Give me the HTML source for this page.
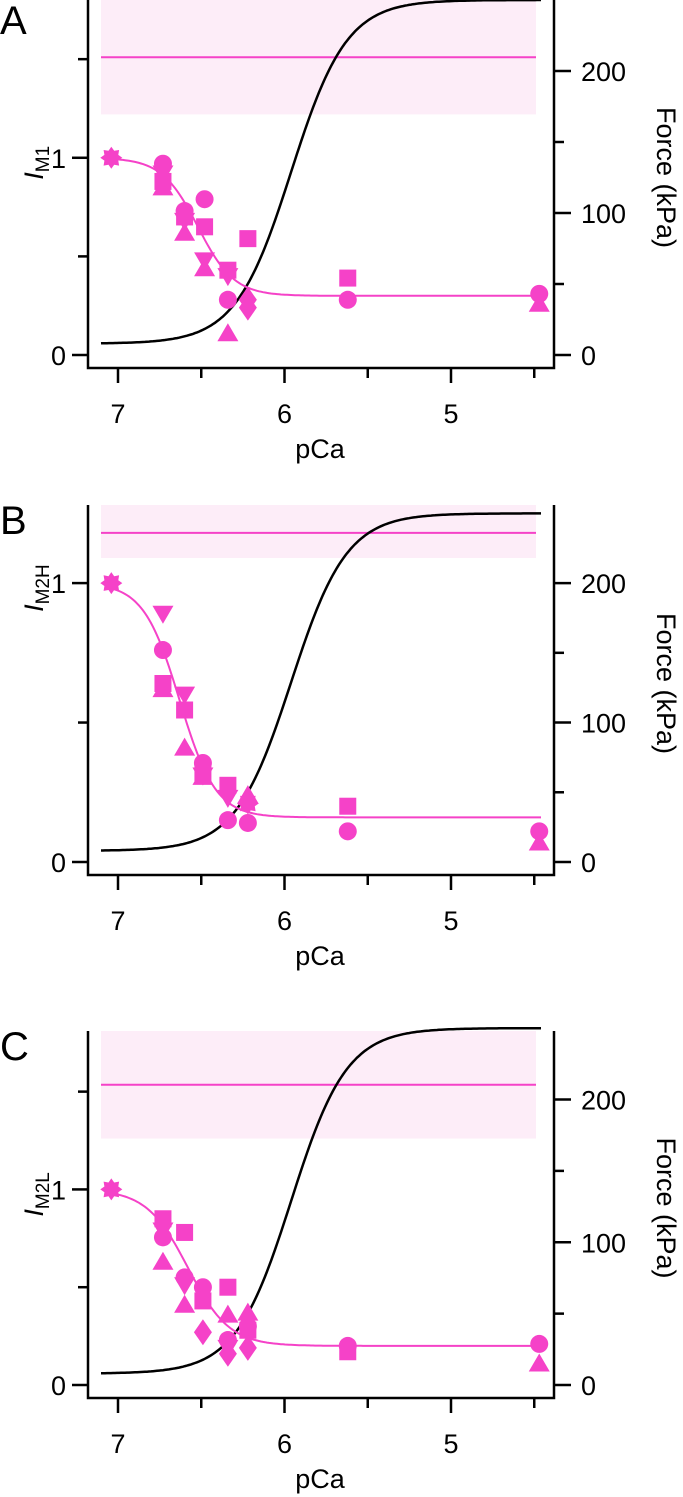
<!DOCTYPE html>
<html><head><meta charset="utf-8">
<style>
html,body{margin:0;padding:0;background:#fff;}
svg{display:block;font-family:"Liberation Sans",Arial,sans-serif;}
</style></head>
<body>
<svg id="chart" width="683" height="1497" viewBox="0 0 683 1497" xmlns="http://www.w3.org/2000/svg"></svg>
<script>
// ---- data ----
const panelLetters = ["A","B","C"];
const panelSubs = ["M1","M2H","M2L"];
const xTicks = [7,6,5];
const xMinorTicks = [6.5,5.5,4.5];
const leftTicks = [0,1];
const leftMinor = [0.5,1.5];
const rightTicks = [0,100,200];
const rightMinor = [50,150];
// fit params per panel
const fitMin = [0.30,0.16,0.20];
const fitMid = [6.52,6.63,6.58];
const fitN = [4,4,3.5];
const refLevel = [1.51,1.18,1.535];
const refLow = [1.22,1.09,1.26];
const refHigh = [1.80,1.28,1.81];
const forceMin = [8,8,8];
const forceMax = [250,250,250];
const forceMid = [5.96,5.96,5.96];
const forceN = [2.6,2.6,2.6];
// data points: [pCa, value, shape]
const pointsA = [
[7.04,1,"star"],
[6.73,0.97,"circle"],[6.73,0.92,"tridown"],[6.73,0.88,"square"],[6.73,0.85,"triup"],
[6.6,0.73,"circle"],[6.6,0.70,"square"],[6.6,0.68,"tridown"],[6.6,0.62,"triup"],
[6.48,0.79,"circle"],[6.48,0.65,"square"],[6.48,0.48,"tridown"],[6.48,0.44,"triup"],
[6.34,0.43,"square"],[6.34,0.40,"tridown"],[6.34,0.28,"circle"],[6.34,0.11,"triup"],
[6.22,0.59,"square"],[6.22,0.28,"diamond"],[6.22,0.24,"diamond"],
[5.62,0.39,"square"],[5.62,0.28,"circle"],
[4.47,0.31,"circle"],[4.47,0.26,"triup"]];
const pointsB = [
[7.04,1,"star"],
[6.73,0.89,"tridown"],[6.73,0.76,"circle"],[6.73,0.64,"square"],[6.73,0.62,"triup"],
[6.6,0.60,"tridown"],[6.6,0.545,"square"],[6.6,0.41,"triup"],
[6.49,0.355,"circle"],[6.49,0.32,"square"],[6.49,0.305,"triup"],[6.49,0.31,"tridown"],
[6.34,0.275,"square"],[6.34,0.23,"tridown"],[6.34,0.15,"circle"],
[6.22,0.24,"triup"],[6.22,0.21,"star"],[6.22,0.14,"circle"],
[5.62,0.20,"square"],[5.62,0.11,"circle"],
[4.47,0.11,"circle"],[4.47,0.07,"triup"]];
const pointsC = [
[7.04,1,"star"],
[6.73,0.85,"square"],[6.73,0.79,"tridown"],[6.73,0.755,"circle"],[6.73,0.63,"triup"],
[6.6,0.78,"square"],[6.6,0.55,"circle"],[6.6,0.51,"tridown"],[6.6,0.41,"triup"],
[6.49,0.50,"circle"],[6.49,0.43,"square"],[6.49,0.27,"diamond"],
[6.34,0.50,"square"],[6.34,0.36,"triup"],[6.34,0.23,"circle"],[6.34,0.19,"tridown"],[6.34,0.16,"diamond"],
[6.22,0.37,"triup"],[6.22,0.28,"square"],[6.22,0.30,"circle"],[6.22,0.19,"diamond"],
[5.62,0.20,"circle"],[5.62,0.17,"square"],
[4.47,0.21,"circle"],[4.47,0.11,"triup"]];
const allPoints = [pointsA,pointsB,pointsC];

// ---- layout ----
const NS="http://www.w3.org/2000/svg";
const svg=document.getElementById('chart');
const PINK="#f542c8";
const layout=[{y0:355,top:0,lmax:1.80,rmax:250},{y0:862,top:505,lmax:1.28,rmax:256},{y0:1385,top:1031,lmax:1.81,rmax:248}];
const xL=88,xR=554;
function xs(p){return 118+(7-p)*166.5;}
function mk(tag,attrs,parent){const e=document.createElementNS(NS,tag);for(const k in attrs)e.setAttribute(k,attrs[k]);(parent||svg).appendChild(e);return e;}
function txt(s,attrs,parent){const e=mk('text',attrs,parent);e.textContent=s;return e;}

layout.forEach((L,i)=>{
  const g=mk('g',{});
  
  
  const yl=v=>L.y0-(L.y0-L.top)*v/L.lmax;
  const yr=v=>L.y0-(L.y0-L.top)*v/L.rmax;
  const yb=L.y0+13;
  const band=mk('rect',{x:101,y:yl(refHigh[i]),width:435,height:yl(refLow[i])-yl(refHigh[i]),fill:"#fdedf8"},g);
  
  
  const rl=mk('line',{x1:101,x2:536,y1:yl(refLevel[i]),y2:yl(refLevel[i]),stroke:PINK,'stroke-width':2},g);
  
  
  let d='';
  for(let x=101;x<=541;x+=2){const p=7-(x-118)/166.5;const f=forceMin[i]+(forceMax[i]-forceMin[i])/(1+Math.pow(10,forceN[i]*(p-forceMid[i])));d+=(d?'L':'M')+x+','+yr(f).toFixed(1);}
  const fc=mk('path',{d:d,fill:'none',stroke:'#000','stroke-width':2.5},g);
  
  
  d='';
  for(let x=111;x<=541;x+=2){const p=7-(x-118)/166.5;const v=fitMin[i]+(1-fitMin[i])/(1+Math.pow(10,fitN[i]*(fitMid[i]-p)));d+=(d?'L':'M')+x+','+yl(v).toFixed(1);}
  const pc=mk('path',{d:d,fill:'none',stroke:PINK,'stroke-width':2},g);
  
  
  allPoints[i].forEach(pt=>{
    const cx=xs(pt[0]),cy=yl(pt[1]);let e;
    if(pt[2]==='circle')e=mk('circle',{cx:cx,cy:cy,r:9,fill:PINK},g);
    else if(pt[2]==='square')e=mk('rect',{x:cx-8.5,y:cy-8.5,width:17,height:17,fill:PINK},g);
    else if(pt[2]==='triup')e=mk('polygon',{points:`${cx},${cy-10} ${cx+10.5},${cy+8} ${cx-10.5},${cy+8}`,fill:PINK},g);
    else if(pt[2]==='tridown')e=mk('polygon',{points:`${cx},${cy+10} ${cx+10.5},${cy-8} ${cx-10.5},${cy-8}`,fill:PINK},g);
    else if(pt[2]==='diamond')e=mk('polygon',{points:`${cx},${cy-13} ${cx+9},${cy} ${cx},${cy+13} ${cx-9},${cy}`,fill:PINK},g);
    else {let s='';for(let k=0;k<16;k++){const r=k%2?7.5:11;const a=k*Math.PI/8;s+=(cx+r*Math.sin(a)).toFixed(1)+','+(cy-r*Math.cos(a)).toFixed(1)+' ';}e=mk('polygon',{points:s,fill:PINK},g);}
    
    
  });
  const ax=mk('path',{d:`M${xL},${L.top}V${yb}H${xR}V${L.top}`,fill:'none',stroke:'#000','stroke-width':2.5},g);
  
  
  xTicks.forEach(t=>{mk('line',{x1:xs(t),x2:xs(t),y1:yb,y2:yb+15,stroke:'#000','stroke-width':2.5},g);
    const l=txt(String(t),{x:xs(t),y:L.y0+68,'font-size':27,'text-anchor':'middle'},g);
    });
  xMinorTicks.forEach(t=>mk('line',{x1:xs(t),x2:xs(t),y1:yb,y2:yb+10,stroke:'#000','stroke-width':2.5},g));
  leftTicks.forEach(t=>{mk('line',{x1:xL-16,x2:xL,y1:yl(t),y2:yl(t),stroke:'#000','stroke-width':2.5},g);
    const l=txt(String(t),{x:xL-22,y:yl(t)+10,'font-size':27,'text-anchor':'end'},g);
    });
  leftMinor.forEach(t=>{if(t<=L.lmax)mk('line',{x1:xL-10,x2:xL,y1:yl(t),y2:yl(t),stroke:'#000','stroke-width':2.5},g);});
  rightTicks.forEach(t=>{mk('line',{x1:xR,x2:xR+17,y1:yr(t),y2:yr(t),stroke:'#000','stroke-width':2.5},g);
    const l=txt(String(t),{x:xR+27,y:yr(t)+10,'font-size':27},g);
    });
  rightMinor.forEach(t=>mk('line',{x1:xR,x2:xR+10,y1:yr(t),y2:yr(t),stroke:'#000','stroke-width':2.5},g));
  const xl=txt('pCa',{x:320,y:L.y0+103,'font-size':27,'text-anchor':'middle'},g);
  
  const cyF=(L.top+L.y0)/2;
  const fl=txt('Force (kPa)',{x:0,y:0,'font-size':27,'text-anchor':'middle',transform:`translate(657,${cyF}) rotate(90)`},g);
  
  const yt=mk('text',{x:0,y:0,'font-size':27,'text-anchor':'middle',transform:`translate(43,${yl(1)+5}) rotate(-90)`},g);
  
  const t1=mk('tspan',{'font-style':'italic'},yt);t1.textContent='I';
  const t2=mk('tspan',{'font-size':19,dy:6},yt);t2.textContent=panelSubs[i];
  const pl=txt(panelLetters[i],{x:0,y:L.top+(i===0?34:29),'font-size':40},g);
  
});
</script>
</body></html>
